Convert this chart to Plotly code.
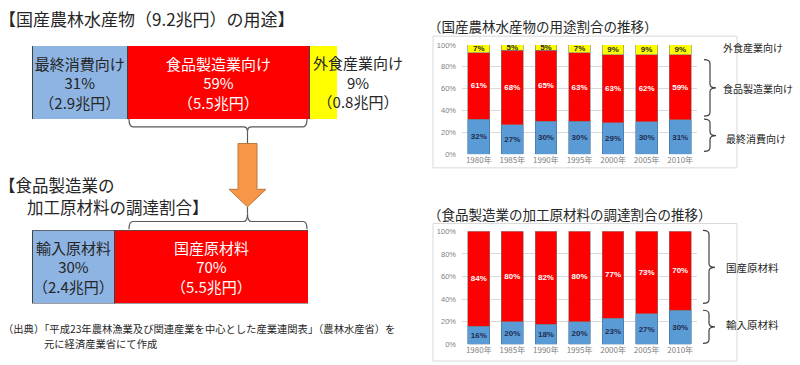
import plotly.graph_objects as go

# ---------------- data ----------------
years = ["1980年", "1985年", "1990年", "1995年", "2000年", "2005年", "2010年"]
use_final = [32, 27, 30, 30, 29, 30, 31]       # 最終消費向け
use_food = [61, 68, 65, 63, 63, 62, 59]        # 食品製造業向け
use_dining = [7, 5, 5, 7, 9, 9, 9]             # 外食産業向け

mat_import = [16, 20, 18, 20, 23, 27, 30]      # 輸入原材料
mat_domestic = [84, 80, 82, 80, 77, 73, 70]    # 国産原材料

total_names = ["最終消費向け", "食品製造業向け", "外食産業向け"]
total_pct = [31, 59, 9]
total_amt = [2.9, 5.5, 0.8]

mat_names = ["輸入原材料", "国産原材料"]
mat_pct = [30, 70]
mat_amt = [2.4, 5.5]

pct_ticks = [0, 20, 40, 60, 80, 100]

# ---------------- style ----------------
W, H = 800, 365
JP = "Noto Sans CJK JP"
BLUE_R = "#5B9BD5"
BLUE_L = "#8DB4E2"
RED = "#FF0000"
YELLOW = "#FFFF00"
ORANGE = "#F79646"


def X(px):
    return px / W


def Y(py):
    return 1 - py / H


def pct(v):
    return [f"{x}%" for x in v]


fig = go.Figure()

# ---------- right-top chart ----------
for vals, col, tcol in [(use_final, BLUE_R, "#1F2D4F"), (use_food, RED, "white"),
                        (use_dining, YELLOW, "#262626")]:
    fig.add_trace(go.Bar(
        x=years, y=vals, text=pct(vals), xaxis="x", yaxis="y",
        marker=dict(color=col, line=dict(color="#41719C" if col == BLUE_R else "#7F7F7F", width=0.6)),
        width=0.65, textposition="inside", insidetextanchor="middle", textangle=0,
        constraintext="none",
        insidetextfont=dict(color=tcol, size=8, family="Liberation Sans"),
        texttemplate="<b>%{text}</b>", hoverinfo="skip"))

# ---------- right-bottom chart ----------
for vals, col, tcol in [(mat_import, BLUE_R, "#1F2D4F"), (mat_domestic, RED, "white")]:
    fig.add_trace(go.Bar(
        x=years, y=vals, text=pct(vals), xaxis="x2", yaxis="y2",
        marker=dict(color=col, line=dict(color="#41719C" if col == BLUE_R else "#7F7F7F", width=0.6)),
        width=0.65, textposition="inside", insidetextanchor="middle", textangle=0,
        constraintext="none",
        insidetextfont=dict(color=tcol, size=8, family="Liberation Sans"),
        texttemplate="<b>%{text}</b>", hoverinfo="skip"))

# ---------- left-top horizontal bar ----------
left_cols = [BLUE_L, RED, YELLOW]
left_tcols = ["#262626", "white", "#262626"]
for i in range(3):
    txt = f"{total_names[i]}<br>{total_pct[i]}%<br>（{total_amt[i]}兆円）" if i < 2 else ""
    fig.add_trace(go.Bar(
        y=["a"], x=[total_pct[i]], orientation="h", xaxis="x3", yaxis="y3",
        marker=dict(color=left_cols[i], line=dict(color="#404040", width=1)),
        width=1, text=[txt], textposition="inside", insidetextanchor="middle", textangle=0,
        constraintext="none",
        insidetextfont=dict(color=left_tcols[i], size=15, family=JP), hoverinfo="skip"))

# ---------- left-bottom horizontal bar ----------
for i in range(2):
    txt = f"{mat_names[i]}<br>{mat_pct[i]}%<br>（{mat_amt[i]}兆円）"
    fig.add_trace(go.Bar(
        y=["a"], x=[mat_pct[i]], orientation="h", xaxis="x4", yaxis="y4",
        marker=dict(color=left_cols[i], line=dict(color="#404040", width=1)),
        width=1, text=[txt], textposition="inside", insidetextanchor="middle", textangle=0,
        constraintext="none",
        insidetextfont=dict(color=left_tcols[i], size=15, family=JP), hoverinfo="skip"))

ytick = dict(range=[0, 100], tickvals=pct_ticks, ticktext=pct(pct_ticks),
             showgrid=True, gridcolor="#D9D9D9", gridwidth=1, zeroline=False,
             tickfont=dict(size=7.5, color="#7F7F7F", family="Liberation Sans"),
             ticklabelstandoff=5, fixedrange=True)
xtick = dict(tickfont=dict(size=8, color="#7F7F7F", family=JP), showgrid=False,
             showline=False, fixedrange=True)

fig.update_layout(
    width=W, height=H, margin=dict(l=0, r=0, t=0, b=0),
    paper_bgcolor="white", plot_bgcolor="rgba(0,0,0,0)",
    barmode="stack", barnorm="percent", showlegend=False,
    font=dict(family=JP, color="#262626"),
    xaxis=dict(domain=[X(462), X(697)], anchor="y", **xtick),
    yaxis=dict(domain=[Y(154), Y(42)], anchor="x", **ytick),
    xaxis2=dict(domain=[X(462), X(697)], anchor="y2", **xtick),
    yaxis2=dict(domain=[Y(349), Y(233)], anchor="x2", **ytick),
    xaxis3=dict(domain=[X(32), X(337)], anchor="y3", range=[0, 100], visible=False),
    yaxis3=dict(domain=[Y(118), Y(43)], anchor="x3", range=[-0.5, 0.5], visible=False),
    xaxis4=dict(domain=[X(32), X(308)], anchor="y4", range=[0, 100], visible=False),
    yaxis4=dict(domain=[Y(307), Y(232)], anchor="x4", range=[-0.5, 0.5], visible=False),
)

shapes = []
# chart frames
for (x0, y0, x1, y1) in [(433, 33, 737, 168), (433, 225, 737, 366)]:
    shapes.append(dict(type="rect", xref="paper", yref="paper",
                       x0=X(x0), x1=X(x1), y0=Y(y1), y1=Y(y0),
                       line=dict(color="#D9D9D9", width=1), fillcolor="rgba(0,0,0,0)", layer="below"))


def P(px, py):
    return f"{X(px):.5f},{Y(py):.5f}"


def vbrace(xe, xs, xt, yt, yb, ym, r=4):
    return (f"M {P(xe, yt)} Q {P(xs, yt)} {P(xs, yt + r)} L {P(xs, ym - r)} "
            f"Q {P(xs, ym)} {P(xt, ym)} Q {P(xs, ym)} {P(xs, ym + r)} "
            f"L {P(xs, yb - r)} Q {P(xs, yb)} {P(xe, yb)}")


def hbrace(ye, ys, yt, xl, xr, xm, r=4):
    return (f"M {P(xl, ye)} Q {P(xl, ys)} {P(xl + r, ys)} L {P(xm - r, ys)} "
            f"Q {P(xm, ys)} {P(xm, yt)} Q {P(xm, ys)} {P(xm + r, ys)} "
            f"L {P(xr - r, ys)} Q {P(xr, ys)} {P(xr, ye)}")


brace_line = dict(color="#404040", width=1.2)
for args in [(704, 710, 716, 57, 115, 86), (704, 710, 716, 118, 151, 135),
             (703, 709, 715, 232, 307, 270), (703, 709, 715, 314, 348, 331)]:
    shapes.append(dict(type="path", xref="paper", yref="paper", path=vbrace(*args),
                       line=brace_line))

# left braces
shapes.append(dict(type="path", xref="paper", yref="paper",
                   path=hbrace(118, 126, 131, 129, 307, 247.5), line=dict(color="#595959", width=1.2)))
shapes.append(dict(type="path", xref="paper", yref="paper",
                   path=hbrace(231, 223, 215, 129, 307, 247.5), line=dict(color="#595959", width=1.2)))
shapes.append(dict(type="line", xref="paper", yref="paper", x0=X(247.5), x1=X(247.5),
                   y0=Y(131), y1=Y(143), line=dict(color="#595959", width=1.2)))
shapes.append(dict(type="line", xref="paper", yref="paper", x0=X(247.5), x1=X(247.5),
                   y0=Y(208), y1=Y(215), line=dict(color="#595959", width=1.2)))
# arrow
arrow = (f"M {P(238, 143)} L {P(257, 143)} L {P(257, 190)} L {P(266, 190)} "
         f"L {P(247.5, 208)} L {P(229, 190)} L {P(238, 190)} Z")
shapes.append(dict(type="path", xref="paper", yref="paper", path=arrow,
                   fillcolor=ORANGE, line=dict(color="#B9773F", width=1)))

fig.update_layout(shapes=shapes)

ann = []


def text(px, py, s, size, xanchor="left", color="#262626", align="left"):
    ann.append(dict(x=X(px), y=Y(py), xref="paper", yref="paper", text=s, showarrow=False,
                    xanchor=xanchor, yanchor="middle", align=align,
                    font=dict(size=size, color=color, family=JP)))


text(-3, 15, "【国産農林水産物（9.2兆円）の用途】", 17)
text(-3, 185.5, "【食品製造業の", 16.5)
text(25, 208.5, "加工原材料の調達割合】", 16.5)
text(358, 80, f"{total_names[2]}<br>{total_pct[2]}%<br>（{total_amt[2]}兆円）", 15,
     xanchor="center", align="center")
text(1, 333, "（出典）「平成23年農林漁業及び関連産業を中心とした産業連関表」（農林水産省）を", 10.3)
text(42, 348, "元に経済産業省にて作成", 10.3)
text(426, 23, "（国産農林水産物の用途割合の推移）", 13.5)
text(426, 215, "（食品製造業の加工原材料の調達割合の推移）", 13.5)
text(721, 45, "外食産業向け", 10)
text(721, 87, "食品製造業向け", 10)
text(724, 138, "最終消費向け", 10)
text(724, 270, "国産原材料", 10.5)
text(724, 329, "輸入原材料", 10.5)

fig.update_layout(annotations=ann)
fig.write_html("out.html", config={"displayModeBar": False},
               post_script="document.body.style.margin='0px';")
